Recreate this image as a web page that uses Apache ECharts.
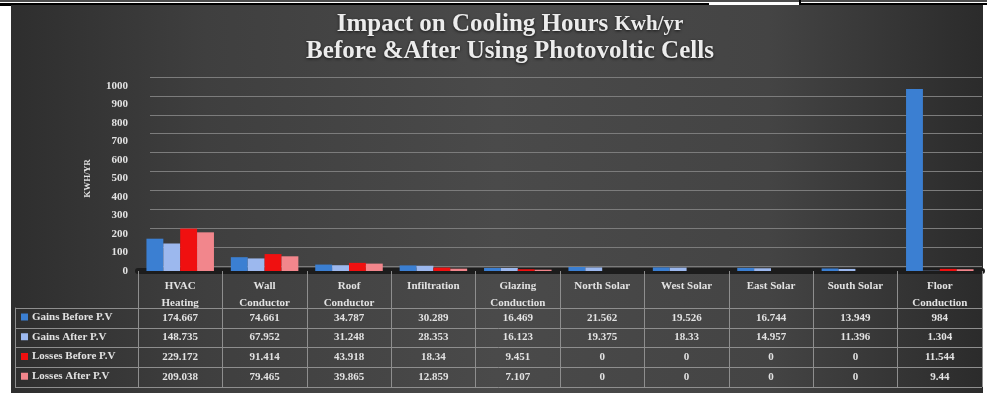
<!DOCTYPE html>
<html>
<head>
<meta charset="utf-8">
<script src="https://cdn.jsdelivr.net/npm/echarts@6/dist/echarts.min.js"></script>
<style>
  html, body { margin: 0; padding: 0; background: #fff; width: 987px; height: 396px; overflow: hidden; }
  #wrap { position: relative; width: 987px; height: 396px; }
  #panel { position: absolute; left: 11px; top: 5px; width: 972px; height: 388px;
    background: linear-gradient(90deg, #2e2e2e 0%, #3f3f3f 20%, #4a4a4a 50%, #444 78%, #2b2b2b 100%); }
  .rule { position: absolute; background: #000; }
  #chart { position: absolute; left: 0; top: 0; width: 987px; height: 396px; }
</style>
</head>
<body>
<div id="wrap">
  <div class="rule" style="left:0;top:0;width:987px;height:2px;background:#4d4d4d"></div>
  <div class="rule" style="left:0;top:3px;width:709px;height:2px"></div>
  <div class="rule" style="left:800px;top:3px;width:187px;height:2px"></div>
  <div class="rule" style="left:799px;top:0;width:2px;height:10px"></div>
  <div class="rule" style="left:0;top:3px;width:11px;height:3px"></div>
  <div id="panel"></div>
  <div id="chart"></div>
</div>
<script>
// Building components and their annual cooling-hour loads (kWh/yr)
const categories = ['HVAC\nHeating', 'Wall\nConductor', 'Roof\nConductor', 'Infiltration', 'Glazing\nConduction',
  'North Solar', 'West Solar', 'East Solar', 'South Solar', 'Floor\nConduction'];
const seriesNames = ['Gains Before P.V', 'Gains After P.V', 'Losses Before P.V', 'Losses After P.V'];
const gainsBefore  = [174.667, 74.661, 34.787, 30.289, 16.469, 21.562, 19.526, 16.744, 13.949, 984];
const gainsAfter   = [148.735, 67.952, 31.248, 28.353, 16.123, 19.375, 18.33, 14.957, 11.396, 1.304];
const lossesBefore = [229.172, 91.414, 43.918, 18.34, 9.451, 0, 0, 0, 0, 11.544];
const lossesAfter  = [209.038, 79.465, 39.865, 12.859, 7.107, 0, 0, 0, 0, 9.44];
const yMin = 0, yMax = 1000, yStep = 100;

const rows = [gainsBefore, gainsAfter, lossesBefore, lossesAfter];
const colors = ['#3b7fd2', '#9cb8ee', '#f01010', '#f2868c'];
const FONT = 'Liberation Serif';
const TXT = '#e2e2e2';

const chart = echarts.init(document.getElementById('chart'), null, { renderer: 'canvas' });

// front grid carries the bars, the axis labels and the data-table rows
const axisY = 271;              // pixel row of the category axis
const rowCenters = [317.9, 337.6, 357.4, 377.1];
const tableBottom = 387;

const xAxes = [{
  gridIndex: 0, type: 'category', data: categories, position: 'bottom',
  axisLine: { show: true, lineStyle: { color: '#1c1c1c', width: 6 } },
  axisTick: { show: true, interval: 0, length: tableBottom - axisY, lineStyle: { color: '#8e8e8e', width: 1 } },
  axisLabel: { interval: 0, margin: 7, color: TXT, fontFamily: FONT, fontWeight: 'bold', fontSize: 11,
    lineHeight: 17, verticalAlign: 'top' },
  splitLine: { show: false }
}];
rows.forEach((vals, r) => {
  xAxes.push({
    gridIndex: 0, type: 'category', data: categories, position: 'bottom',
    offset: rowCenters[r] - axisY,
    axisLine: { show: false }, axisTick: { show: false },
    axisLabel: { interval: 0, margin: 0, verticalAlign: 'middle', color: TXT, fontFamily: FONT,
      fontWeight: 'bold', fontSize: 11, formatter: (v, i) => String(vals[i]) }
  });
});
// back wall gridlines
xAxes.push({ gridIndex: 1, type: 'category', data: categories, show: false });
// table row rules
xAxes.push({ gridIndex: 2, type: 'value', min: 0, max: 1, show: false });

const titleShadow = { textShadowColor: 'rgba(0,0,0,0.7)', textShadowBlur: 3, textShadowOffsetY: 1 };

const option = {
  animation: false,
  title: {
    text: '{a|Impact on Cooling Hours }{b|Kwh/yr}\n{a|Before &After Using Photovoltic Cells}',
    left: 505, top: 6, textAlign: 'center',
    textStyle: {
      rich: {
        a: Object.assign({ fontFamily: FONT, fontWeight: 'bold', fontSize: 25, lineHeight: 27, color: '#ececec' }, titleShadow),
        b: Object.assign({ fontFamily: FONT, fontWeight: 'bold', fontSize: 21, lineHeight: 27, color: '#ececec' }, titleShadow)
      }
    }
  },
  legend: {
    orient: 'vertical', left: 16, top: 305, data: seriesNames,
    itemWidth: 7, itemHeight: 7, itemGap: 5.75, icon: 'rect',
    textStyle: { color: TXT, fontFamily: FONT, fontWeight: 'bold', fontSize: 11, lineHeight: 14, padding: [0, 0, 0, -1] },
    selectedMode: false
  },
  grid: [
    { left: 138, right: 5, top: 86, bottom: 396 - axisY },
    { left: 150, right: 5, top: 77, bottom: 130 },
    { left: 15, right: 5, top: 308, bottom: 396 - tableBottom }
  ],
  xAxis: xAxes,
  yAxis: [
    {
      gridIndex: 0, type: 'value', min: yMin, max: yMax, interval: yStep,
      name: 'KWH/YR', nameLocation: 'middle', nameRotate: 90, nameGap: 46,
      nameTextStyle: { color: TXT, fontFamily: FONT, fontWeight: 'bold', fontSize: 9 },
      axisLine: { show: false }, axisTick: { show: false }, splitLine: { show: false },
      axisLabel: { color: TXT, fontFamily: FONT, fontWeight: 'bold', fontSize: 11, margin: 10,
        formatter: v => String(v) }
    },
    {
      gridIndex: 1, type: 'value', min: yMin, max: yMax, interval: yStep,
      axisLine: { show: false }, axisTick: { show: false }, axisLabel: { show: false },
      splitLine: { show: true, lineStyle: { color: '#7c7c7c', width: 1 } }
    },
    {
      gridIndex: 2, type: 'value', min: 0, max: 4, interval: 1,
      axisLine: { show: true, lineStyle: { color: '#8e8e8e', width: 1 } },
      axisTick: { show: false }, axisLabel: { show: false },
      splitLine: { show: true, lineStyle: { color: '#8e8e8e', width: 1 } }
    }
  ],
  series: rows.map((vals, r) => ({
    name: seriesNames[r], type: 'bar', xAxisIndex: 0, yAxisIndex: 0,
    data: vals, barGap: '0%', barCategoryGap: '20%',
    itemStyle: { color: colors[r] }
  }))
};
chart.setOption(option);
</script>
</body>
</html>
